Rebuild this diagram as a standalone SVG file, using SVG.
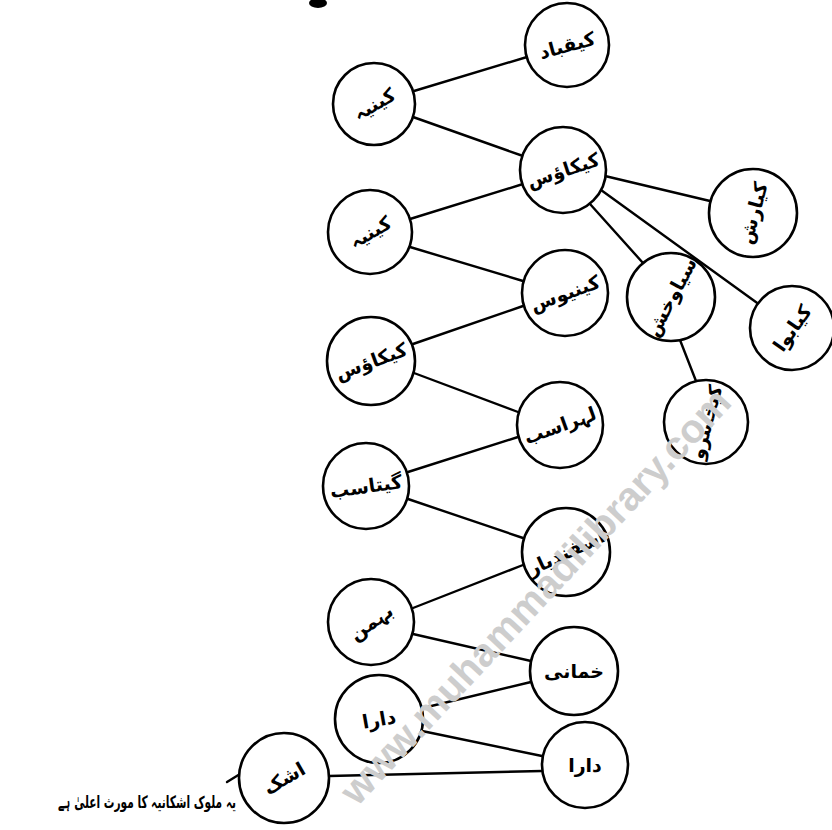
<svg xmlns="http://www.w3.org/2000/svg" width="832" height="830" viewBox="0 0 832 830">
  <style>
    .node circle { fill: #ffffff; stroke: #000000; stroke-width: 2.6; }
    .node text { font-family: "DejaVu Sans", sans-serif; font-size: 19px; font-weight: bold; fill: #000000; text-anchor: middle; dominant-baseline: central; }
    #edges line { stroke: #000000; stroke-width: 2.4; stroke-linecap: round; }
    .note { font-family: "DejaVu Sans", sans-serif; font-size: 17px; font-weight: bold; fill: #000000; text-anchor: end; }
    .mark { font-family: "Liberation Sans", Arial, sans-serif; font-size: 40px; font-weight: bold; fill: #cdcdcd; text-anchor: middle; dominant-baseline: central; }
  </style>
  <rect width="832" height="830" fill="#ffffff"/>

  <!-- header fragment at the top edge -->
  <ellipse cx="318" cy="3" rx="9" ry="5" fill="#000000"/>

  <!-- connectors -->
  <g id="edges">
    <line x1="414" y1="91" x2="527" y2="57"/>
    <line x1="413" y1="117" x2="523" y2="156"/>
    <line x1="523" y1="184" x2="410" y2="219"/>
    <line x1="605" y1="176" x2="710" y2="201"/>
    <line x1="601" y1="190" x2="760" y2="305"/>
    <line x1="590" y1="204" x2="643" y2="263"/>
    <line x1="680" y1="340" x2="696" y2="381"/>
    <line x1="410" y1="247" x2="523" y2="281"/>
    <line x1="523" y1="306" x2="413" y2="344"/>
    <line x1="414" y1="373" x2="518" y2="412"/>
    <line x1="518" y1="437" x2="408" y2="472"/>
    <line x1="408" y1="499" x2="523" y2="538"/>
    <line x1="523" y1="565" x2="413" y2="608"/>
    <line x1="413" y1="634" x2="531" y2="661"/>
    <line x1="531" y1="682" x2="423" y2="708"/>
    <line x1="422" y1="731" x2="542" y2="756"/>
    <line x1="329" y1="776" x2="542" y2="771"/>
    <line x1="227" y1="782" x2="240" y2="774"/>
  </g>

  <!-- nodes -->
  <g id="n-kaiqubad" class="node"><circle cx="567" cy="45" r="42"/><text x="567" y="45" transform="rotate(-15 567 45)">کیقباد</text></g>
  <g id="n-kainiyah-1" class="node"><circle cx="374" cy="104" r="41"/><text x="374" y="104" transform="rotate(-30 374 104)">کینیہ</text></g>
  <g id="n-kaikaus" class="node"><circle cx="563" cy="170" r="43"/><text x="563" y="170" font-size="17" transform="rotate(-18 563 170)">کیکاؤس</text></g>
  <g id="n-kaiarash" class="node"><circle cx="753" cy="213" r="44"/><text x="753" y="213" transform="rotate(-75 753 213)">کیارش</text></g>
  <g id="n-siyawakhsh" class="node"><circle cx="671" cy="297" r="44"/><text x="671" y="297" font-size="16" transform="rotate(-62 671 297)">سیاوخش</text></g>
  <g id="n-kaiabwa" class="node"><circle cx="792" cy="328" r="42"/><text x="792" y="328" transform="rotate(-55 792 328)">کیابوا</text></g>
  <g id="n-kaikhusraw" class="node"><circle cx="706" cy="422" r="42"/><text x="706" y="422" font-size="15" transform="rotate(-75 706 422)">کیخسرو</text></g>
  <g id="n-kainiyah-2" class="node"><circle cx="370" cy="232" r="42"/><text x="370" y="232" transform="rotate(-30 370 232)">کینیہ</text></g>
  <g id="n-kainiyus" class="node"><circle cx="565" cy="293" r="43"/><text x="565" y="293" font-size="17" transform="rotate(-20 565 293)">کینیوس</text></g>
  <g id="n-kaikaus-2" class="node"><circle cx="371" cy="361" r="44"/><text x="371" y="361" font-size="17" transform="rotate(-20 371 361)">کیکاؤس</text></g>
  <g id="n-luhrasb" class="node"><circle cx="560" cy="425" r="43"/><text x="560" y="425" font-size="17" transform="rotate(-20 560 425)">لہراسب</text></g>
  <g id="n-gushtasb" class="node"><circle cx="366" cy="486" r="43"/><text x="366" y="486" font-size="17" transform="rotate(-8 366 486)">گیتاسب</text></g>
  <g id="n-isfandiyar" class="node"><circle cx="566" cy="552" r="44"/><text x="566" y="552" font-size="15" transform="rotate(-25 566 552)">اسفندیار</text></g>
  <g id="n-bahman" class="node"><circle cx="371" cy="622" r="43"/><text x="371" y="622" transform="rotate(-35 371 622)">بہمن</text></g>
  <g id="n-khumani" class="node"><circle cx="574" cy="671" r="44"/><text x="574" y="671">خمانی</text></g>
  <g id="n-dara-1" class="node"><circle cx="379" cy="719" r="44"/><text x="379" y="719" transform="rotate(-10 379 719)">دارا</text></g>
  <g id="n-dara-2" class="node"><circle cx="585" cy="765" r="43"/><text x="585" y="765">دارا</text></g>
  <g id="n-ashk" class="node"><circle cx="284" cy="778" r="45"/><text x="284" y="778" transform="rotate(-30 284 778)">اشک</text></g>

  <!-- side note beside the last node -->
  <text class="note" x="236" y="808" textLength="178" lengthAdjust="spacingAndGlyphs">یہ ملوک اشکانیہ کا مورث اعلیٰ ہے</text>

  <!-- site mark across the lower half -->
  <text class="mark" x="535" y="596" transform="rotate(-47 535 596)">www.muhammadilibrary.com</text>
</svg>
